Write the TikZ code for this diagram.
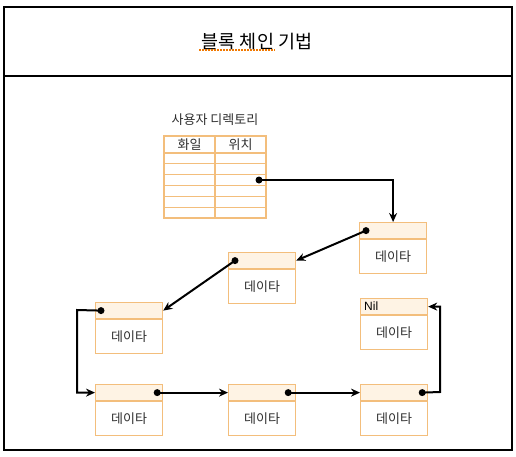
\documentclass[tikz,border=0pt]{standalone}
\usepackage{fontspec}
\setmainfont{Noto Sans CJK KR}
\newfontfamily\latinsans{Liberation Sans}
\usetikzlibrary{arrows.meta}
\definecolor{boxline}{HTML}{F3BE7C}
\definecolor{hdrfill}{HTML}{FEF3E4}
\definecolor{txt}{HTML}{2E2E2E}
\definecolor{squig}{HTML}{F07800}
\tikzset{
  hdr/.style={draw=boxline, fill=hdrfill, line width=1.2pt, minimum width=67pt, minimum height=16pt, inner sep=0pt, anchor=north west},
  body/.style={draw=boxline, fill=white, line width=1.2pt, minimum width=67pt, minimum height=34pt, inner sep=0pt, anchor=north, text=txt, font=\fontsize{13}{15}\selectfont},
  conn/.style={line width=2pt, black},
  arr/.style={conn, -{Stealth[length=9pt,width=8pt]}},
  dotc/.style={circle, fill=black, inner sep=0pt, minimum size=7pt},
  grid/.style={draw=boxline, line width=1.2pt},
  lbl/.style={text=txt, font=\fontsize{13}{15}\selectfont, inner sep=0pt}
}
\begin{document}
\begin{tikzpicture}[x=1pt,y=-1pt]
\useasboundingbox (0,0) rectangle (516,456);
% frame
\draw[line width=1.5pt] (4,7) rectangle (512,450);
\draw[line width=1.5pt] (4,76) -- (512,76);
\node[font=\fontsize{18.5}{20}\selectfont, inner sep=0pt] (title) at (257,42) {블록 체인 기법};
\draw[squig, line width=1.5pt, dash pattern=on 1.5pt off 1.5pt] (199,50) -- (275,50);
% directory table
\node[lbl] (dirtitle) at (215,120) {사용자 디렉토리};
\draw[grid] (164,136) rectangle (266,218);
\draw[grid] (215,136) -- (215,218);
\draw[grid] (164,153) -- (266,153);
\foreach \k in {1,...,5} {\draw[grid] (164,153+\k*10.83) -- (266,153+\k*10.83);}
\node[lbl] (colfile) at (189.5,144.5) {화일};
\node[lbl] (colpos) at (240.5,144.5) {위치};
\node[dotc] (tdot) at (259,180) {};
% boxes
\node[hdr] (Ah) at (359,222) {};
\node[body] (Ab) at (Ah.south) {데이타};
\node[hdr] (Bh) at (228,252) {};
\node[body] (Bb) at (Bh.south) {데이타};
\node[hdr] (Ch) at (95,302) {};
\node[body] (Cb) at (Ch.south) {데이타};
\node[hdr] (Dh) at (95,384) {};
\node[body] (Db) at (Dh.south) {데이타};
\node[hdr] (Eh) at (228,384) {};
\node[body] (Eb) at (Eh.south) {데이타};
\node[hdr] (Fh) at (360,384) {};
\node[body] (Fb) at (Fh.south) {데이타};
\node[hdr] (Gh) at (360,298) {};
\node[body] (Gb) at (Gh.south) {데이타};
\node[anchor=west, inner sep=0pt, font=\latinsans\fontsize{12}{14}\selectfont] (nil) at ([xshift=4pt]Gh.west) {Nil};
% dots
\node[dotc] (Adot) at ([xshift=7pt]Ah.west) {};
\node[dotc] (Bdot) at ([xshift=7pt]Bh.west) {};
\node[dotc] (Cdot) at ([xshift=6pt]Ch.west) {};
\node[dotc] (Ddot) at ([xshift=-6pt]Dh.east) {};
\node[dotc] (Edot) at ([xshift=-8pt]Eh.east) {};
\node[dotc] (Fdot) at ([xshift=-6pt]Fh.east) {};
\coordinate (cl) at (77,310);
\coordinate (fr) at (440,392);
% connectors
\draw[arr] (tdot.center) -| (Ah.north);
\draw[arr] (Adot.center) -- (Bh.east);
\draw[arr] (Bdot.center) -- (Ch.east);
\draw[arr] (Cdot.center) -- (cl) |- (Dh.west);
\draw[arr] (Ddot.center) -- (Eh.west);
\draw[arr] (Edot.center) -- (Fh.west);
\draw[arr] (Fdot.center) -- (fr) |- (Gh.east);
\end{tikzpicture}
\end{document}
